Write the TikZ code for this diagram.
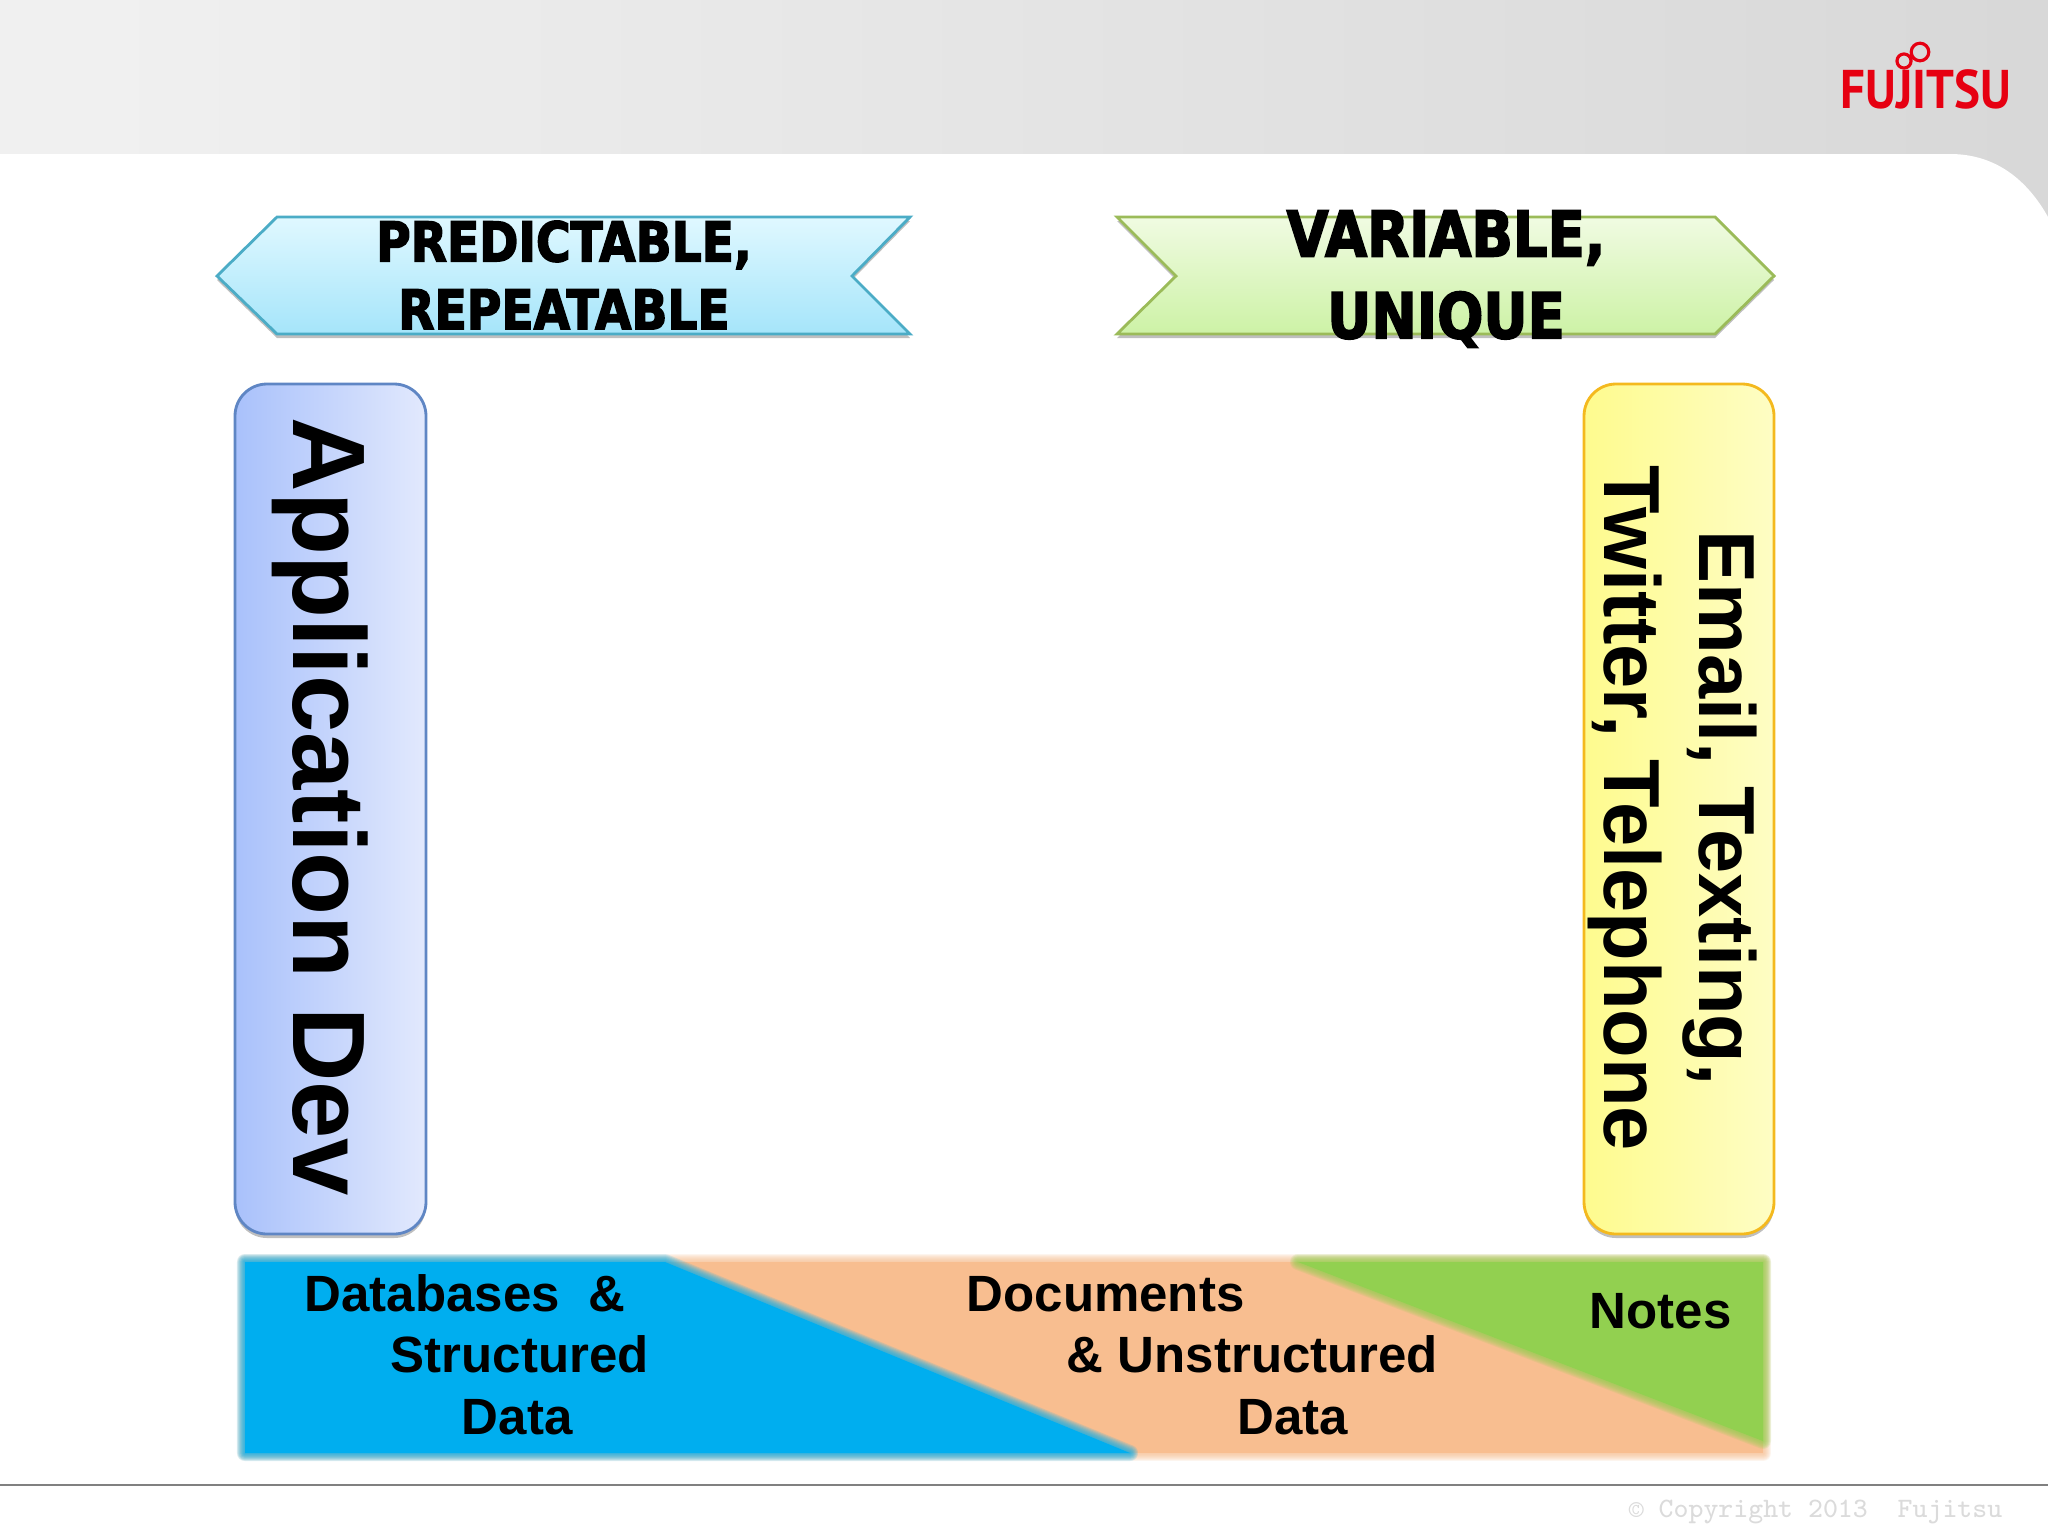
\documentclass[tikz,border=0pt]{standalone}
\usepackage{fontspec}
\setmainfont{Liberation Sans}
\newfontfamily\bannerfont[FakeBold=2.5,FakeStretch=.86]{DejaVu Sans Bold}
\newfontfamily\logofont{PT Sans}
\usetikzlibrary{shadows}

\definecolor{dbblue}{HTML}{00AEEF}
\definecolor{docorange}{HTML}{F8BE90}
\definecolor{notegreen}{HTML}{92D050}
\definecolor{logored}{HTML}{E60012}
\pgfdeclarehorizontalshading{topband}{100bp}{color(0bp)=(black!6); color(28bp)=(black!6); color(83bp)=(black!17); color(100bp)=(black!21)}

% polygon whose rim fades out
\newcommand{\softpoly}[2]{
    \foreach \w in {16,14,...,2}
        \draw[#1, line width=\w*.2845pt, opacity=.15, line join=round] #2;
    \fill[#1] #2;
}

\tikzset{
    softshadow/.style={drop shadow={shadow xshift=0pt, shadow yshift=-.04cm, opacity=.25, fill=black}},
    sidebox/.style={rounded corners=.32cm, line width=.8pt, softshadow},
    banner/.style={line width=.8pt, softshadow},
    bigtext/.style={font=\bfseries\fontsize{29.3}{34}\selectfont, rotate=-90, inner sep=0pt},
    sidetext/.style={font=\bfseries\fontsize{22.6}{26.8}\selectfont, rotate=-90, inner sep=0pt, align=center},
    banlabel/.style={inner sep=0pt, align=center},
    bandlabel/.style={font=\bfseries\fontsize{14.5}{17.4}\selectfont, inner sep=0pt, align=left, anchor=north west}
}

\begin{document}
\begin{tikzpicture}[x=.01cm, y=-.01cm]
    \useasboundingbox (0,0) rectangle (2048,1536);

    % header and page
    \shade[shading=topband] (0,0) rectangle (2048,230);
    \fill[white] (0,154) -- (1950,154) .. controls (2000,154) and (2030,185) .. (2048,217)
        -- (2048,1536) -- (0,1536) -- cycle;
    \node[logored, font=\logofont\bfseries\fontsize{15.5}{16}\selectfont, xscale=.9, inner sep=0pt, anchor=base west] (logo) at (1840,108) {FUJITSU};
    \draw[logored, line width=.9pt] (1904,61) circle (2pt) (1920,52) circle (2.5pt);

    % arrows at the top
    \definecolor{bantop}{HTML}{E0F8FF}
    \definecolor{banbot}{HTML}{A5E5FA}
    \definecolor{banline}{HTML}{4BACC6}
    \definecolor{vartop}{HTML}{F0FBE2}
    \definecolor{varbot}{HTML}{CDF2A6}
    \definecolor{varline}{HTML}{9BBB59}
    \draw[banner, draw=banline, top color=bantop, bottom color=banbot]
        (217,276) -- (277,217) -- (910,217) -- (852,276) -- (910,334) -- (277,334) -- cycle;
    \draw[banner, draw=varline, top color=vartop, bottom color=varbot]
        (1117,217) -- (1715,217) -- (1774,276) -- (1715,334) -- (1117,334) -- (1176,276) -- cycle;
    \node[banlabel, font=\bannerfont\fontsize{15.6}{19.3}\selectfont] (predictable) at (564,275) {PREDICTABLE,\\REPEATABLE};
    \node[banlabel, font=\bannerfont\fontsize{18}{23.3}\selectfont] (variable) at (1446,279) {VARIABLE,\\UNIQUE};

    % side boxes
    \definecolor{appleft}{HTML}{A9C1FB}
    \definecolor{appright}{HTML}{E2E9FD}
    \definecolor{appline}{HTML}{5F86C4}
    \definecolor{mailleft}{HTML}{FEFB8E}
    \definecolor{mailright}{HTML}{FEFDC4}
    \definecolor{mailline}{HTML}{F4B91E}
    \draw[sidebox, draw=appline, left color=appleft, right color=appright]
        (235,384) rectangle (426,1234);
    \draw[sidebox, draw=mailline, left color=mailleft, right color=mailright]
        (1584,384) rectangle (1774,1234);
    \node[bigtext, anchor=base] (appdev) at (293,807) {Application Dev};
    \node[sidetext] (channels) at (1672.5,808) {Email, Texting,\\Twitter, Telephone};

    % bottom band with soft edges
    \softpoly{docorange}{(245,1262) rectangle (1763,1453)}
    \softpoly{dbblue}{(245,1262) -- (665,1262) -- (1130,1453) -- (245,1453) -- cycle}
    \softpoly{notegreen}{(1298,1262) -- (1763,1262) -- (1763,1441) -- cycle}
    \node[bandlabel] (databases) at (304,1274) {Databases\ \ \&\\\hspace*{24.5pt}Structured\\\hspace*{44.7pt}Data};
    \node[bandlabel] (documents) at (966,1276) {Documents\\\hspace*{28.5pt}\& Unstructured\\\hspace*{77pt}Data};
    \node[bandlabel] (notes) at (1589,1293) {Notes};

    % footer
    \draw[black!50, line width=.45pt] (0,1485) -- (2048,1485);
    \node[black!14, font=\ttfamily\fontsize{8}{9}\selectfont, inner sep=0pt, anchor=base east] (copyright) at (2003,1517) {© Copyright 2013\ \ Fujitsu};
\end{tikzpicture}
\end{document}
